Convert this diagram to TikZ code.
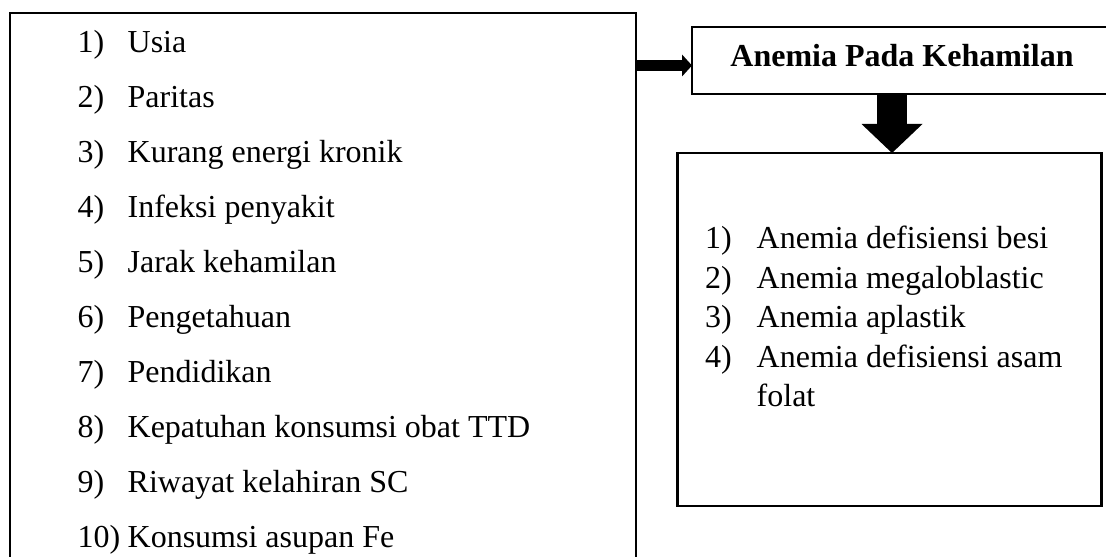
\documentclass[tikz,border=0pt]{standalone}
\usepackage{fontspec}
\setmainfont{Liberation Serif}
\usepackage{tikz}
\usetikzlibrary{calc,arrows.meta}
\definecolor{ink}{HTML}{000000}
\definecolor{paper}{HTML}{FFFFFF}
\tikzset{
  box/.style={draw=ink, line width=2.2pt, rectangle, outer sep=0pt, inner sep=0pt},
  lab/.style={text=ink, anchor=base west, inner sep=0pt, font=\fontsize{32}{38}\selectfont},
  title/.style={text=ink, font=\fontsize{32}{38}\selectfont\bfseries, text height=22pt, text depth=9pt},
  push/.style={draw=ink, line width=11pt, -{Triangle[length=10pt,width=22pt,line width=0pt]}},
  drop/.style={draw=ink, line width=30pt, -{Triangle[length=29pt,width=61pt,line width=0pt]}},
}

\begin{document}
\begin{tikzpicture}[x=1pt,y=1pt]
  \path[use as bounding box, fill=paper] (0,0) rectangle (1106,557);

  \node[box, anchor=north west, minimum width=626pt, minimum height=570pt] (factors) at (10,544) {};
  \node[box, title, minimum width=420pt, minimum height=66.5pt] (anemia) at (902,496.5) {Anemia Pada Kehamilan};
  \node[box, anchor=north west, minimum width=424pt, minimum height=353pt] (types) at (677.5,404) {};

  \foreach \n/\t in {1/Usia,2/Paritas,3/Kurang energi kronik,4/Infeksi penyakit,5/Jarak kehamilan,6/Pengetahuan,7/Pendidikan,8/Kepatuhan konsumsi obat TTD,9/Riwayat kelahiran SC,10/Konsumsi asupan Fe}
    \node[lab] (f\n) at (77.5,{504-54.9*(\n-1)}) {\makebox[50pt][l]{\n)}\t};

  \foreach \n/\t in {1/Anemia defisiensi besi,2/Anemia megaloblastic,3/Anemia aplastik,4/Anemia defisiensi asam}
    \node[lab] (t\n) at (705,{308-39.5*(\n-1)}) {\makebox[51.5pt][l]{\n)}\t};
  \node[lab] (t5) at ($(t4.base west)+(51.5,-39.5)$) {folat};

  \draw[push] ($(factors.east|-anemia.west)+(0,-5)$) -- ($(anemia.west)+(0,-5)$);
  \draw[drop] ($(anemia.south)+(-10,0)$) -- ($(anemia.south|-types.north)+(-10,0)$);
\end{tikzpicture}
\end{document}
